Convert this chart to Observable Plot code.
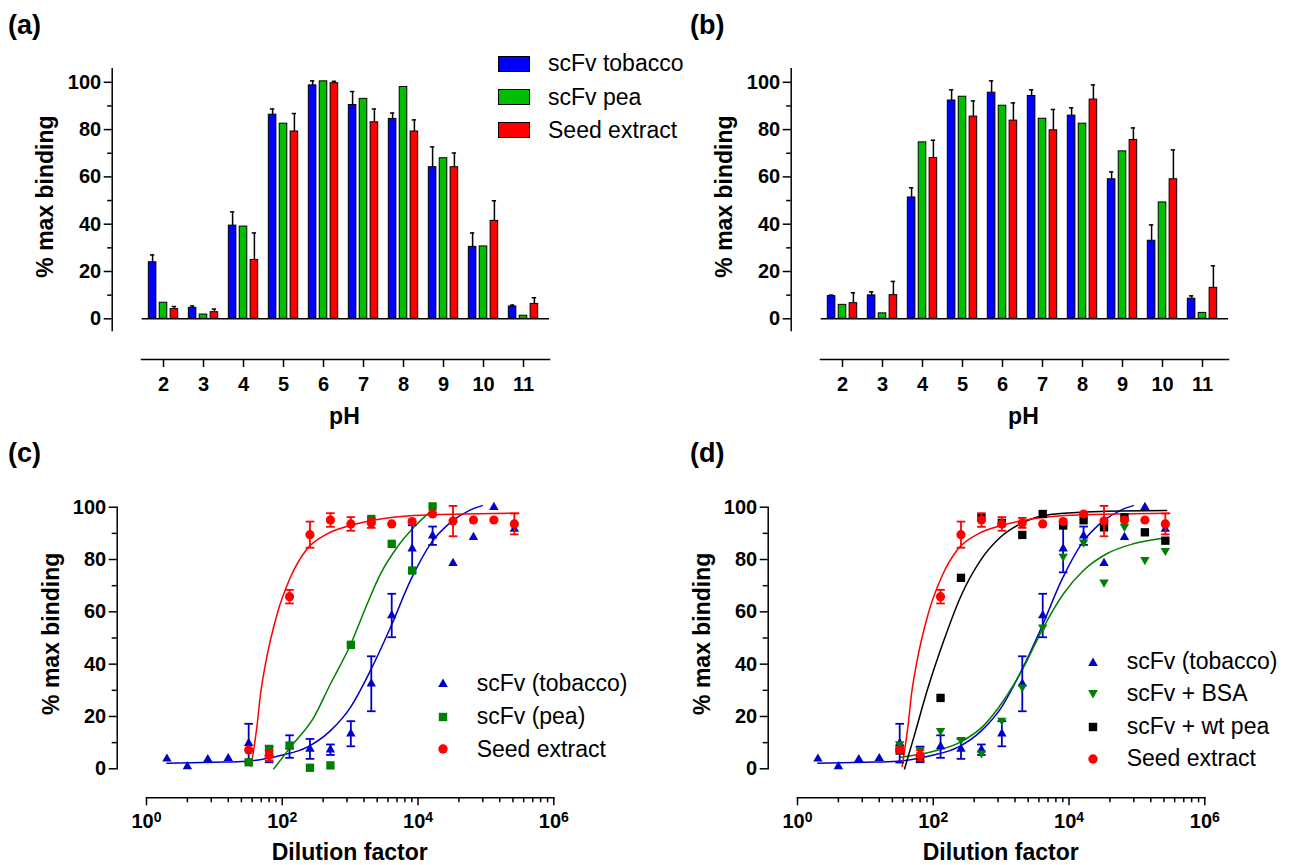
<!DOCTYPE html>
<html><head><meta charset="utf-8">
<script src="https://cdn.jsdelivr.net/npm/d3@7"></script>
<script src="https://cdn.jsdelivr.net/npm/@observablehq/plot@0.6"></script>
<style>
body{margin:0;background:#fff;}
#root{position:relative;width:1294px;height:865px;overflow:hidden;background:#fff;font-family:"Liberation Sans",Arial,Helvetica,sans-serif;color:#000;}
.panel{position:absolute;}
.letter{position:absolute;font-weight:bold;font-size:27px;line-height:1;}
.lg{position:absolute;font-size:23px;line-height:1;white-space:nowrap;}
.sw{position:absolute;box-sizing:border-box;border:1px solid #000;}
.sym{position:absolute;}
</style></head><body><div id="root"></div>
<script>
const FONT = '"Liberation Sans", Arial, Helvetica, sans-serif';

// ---------- Panels (a), (b): binding vs pH ----------
const pH = [2, 3, 4, 5, 6, 7, 8, 9, 10, 11];
const barSeries = ["scFv tobacco", "scFv pea", "Seed extract"];
const barColors = ["#0000ff", "#00bf00", "#ff0000"];

const aTobacco    = [23.9, 4.6, 39.4, 86.3, 98.7, 90.4, 84.5, 64.1, 30.4, 5.2];
const aTobaccoErr = [3.1, 0.8, 5.8, 2.4, 1.9, 5.7, 2.5, 8.6, 5.9, 0.6];
const aPea        = [6.8, 1.8, 39.0, 82.5, 100.4, 93.0, 98.0, 67.9, 30.6, 1.3];
const aSeed       = [4.1, 2.8, 24.9, 79.2, 99.6, 83.1, 79.2, 64.1, 41.4, 6.3];
const aSeedErr    = [1.1, 1.3, 11.4, 7.6, 0.8, 5.6, 4.9, 6.0, 8.5, 2.6];

const bTobacco    = [9.6, 9.9, 51.3, 92.3, 95.6, 94.2, 85.9, 59.0, 33.0, 8.5];
const bTobaccoErr = [0.4, 1.5, 4.1, 4.5, 5.0, 2.6, 3.3, 3.1, 6.7, 1.2];
const bPea        = [5.9, 2.3, 74.6, 93.9, 90.1, 84.6, 82.5, 70.8, 49.2, 2.5];
const bSeed       = [6.6, 10.0, 68.0, 85.5, 83.8, 79.7, 92.7, 75.6, 59.0, 13.1];
const bSeedErr    = [4.4, 5.8, 7.5, 6.6, 7.5, 8.8, 6.2, 5.1, 12.4, 9.3];

const yMajor = [0, 20, 40, 60, 80, 100];
const yMinor = [10, 30, 50, 70, 90];

// ---------- Panels (c), (d): binding vs dilution ----------
const dilutions = [2, 4, 8, 16, 32, 64, 128, 256, 512, 1024, 2048, 4096, 8192, 16384, 32768, 65536, 131072, 262144];
const tobacco    = [3.8, 0.9, 3.6, 4.0, 9.8, 5.5, 8.5, 7.6, 7.3, 13.4, 32.5, 58.6, 84.1, 89.1, 78.6, 88.5, 100.0, 91.7];
const tobaccoErr = [null, null, null, null, 7.4, 3.0, 4.3, 3.8, 2.0, 4.8, 10.5, 8.3, 9.0, 3.5, null, null, null, null];
const pea        = [null, null, null, null, 2.5, 7.6, 8.9, 0.4, 1.3, 47.4, 95.5, 86.0, 75.8, 100.3, null, null, null, null];
const seed       = [null, null, null, null, 7.2, 5.1, 65.8, 89.5, 95.1, 93.6, 94.0, 93.6, 94.5, 97.4, 94.7, 95.1, 95.1, 93.6];
const seedErr    = [null, null, null, null, null, 2.0, 2.6, 5.0, 2.6, 2.6, 1.9, null, null, null, 5.8, null, null, 4.0];
const bsa        = [null, null, null, null, 9.5, 7.3, 14.6, 11.1, 6.0, 18.5, 31.2, 54.1, 81.2, 86.6, 71.3, 92.6, 79.9, 83.4];
const wtPea      = [null, null, null, null, 7.0, 4.1, 27.1, 73.0, 96.1, 94.0, 89.4, 97.4, 93.0, 95.0, 92.3, 96.1, 90.4, 87.2];

// fitted curves
const fitTobaccoX = [2, 10, 30, 94, 233, 514, 1010, 1995, 3940, 7745, 15280, 30130, 59290, 88100];
const fitTobaccoY = [2.1, 2.5, 2.9, 5.1, 8.3, 14.6, 23.5, 37.6, 54.1, 72.0, 86.0, 94.2, 99.0, 100.6];
const fitSeedX = [34.8, 42.8, 47.9, 56.6, 84.1, 132, 233, 459, 1012, 2800, 8670, 47200, 305500];
const fitSeedY = [0.9, 17.2, 28.7, 40.1, 59.2, 73.2, 84.1, 89.8, 93.0, 95.5, 96.8, 97.4, 97.7];
const fitPeaX = [75.2, 132, 292, 514, 1012, 1782, 2800, 4932, 8670, 15280];
const fitPeaY = [0.0, 8.3, 19.7, 32.5, 47.4, 63.0, 74.5, 84.7, 92.3, 98.4];
const fitWtPeaX = [37.8, 51.8, 81.3, 143, 251, 494, 973, 2138, 5272, 28640, 273500];
const fitWtPeaY = [0.0, 12.1, 29.9, 49.0, 65.6, 79.6, 88.5, 94.2, 97.2, 98.4, 98.7];
const fitBsaX = [33, 102, 251, 552, 1086, 2138, 4207, 8279, 16290, 35890, 88300, 273500];
const fitBsaY = [4.4, 6.7, 10.2, 16.5, 26.1, 38.8, 54.1, 66.9, 75.8, 82.2, 86.0, 88.3];

const logMajor = [1, 100, 10000, 1000000];
const logMinorMultipliers = [4, 9, 16, 25, 36, 49, 64, 81];
const logMinor = [1, 100, 10000].flatMap(b => logMinorMultipliers.map(m => b * m));

const cBlue = "#0000cc", cGreen = "#008000", cRed = "#ff0000", cBlack = "#000000";

// ---------- helpers ----------
const root = document.getElementById("root");
function place(el, left, top) {
  el.style.position = "absolute"; el.style.left = left + "px"; el.style.top = top + "px";
  root.appendChild(el);
}
function div(cls, text, left, top) {
  const d = document.createElement("div"); d.className = cls; d.textContent = text;
  d.style.left = left + "px"; d.style.top = top + "px"; root.appendChild(d); return d;
}

const triangleDown = {
  draw(context, size) {
    const y = -Math.sqrt(size / (Math.sqrt(3) * 3));
    context.moveTo(0, -y * 2);
    context.lineTo(-Math.sqrt(3) * y, y);
    context.lineTo(Math.sqrt(3) * y, y);
    context.closePath();
  }
};
const capSymbol = {
  draw(context, size) {
    const w = Math.sqrt(size / Math.PI);
    context.moveTo(-w, 0); context.lineTo(w, 0);
  }
};

// ---------- bar panels ----------
const BAND = (544.3 - 141.9) / pH.length;
const barOffsets = [-10.9, 0, 10.9];
const barHalf = 3.9, capHalf = 2.3;

function barRows(tob, tobErr, pe, sd, sdErr) {
  const rows = [];
  pH.forEach((p, i) => {
    rows.push({pH: p, s: 0, value: tob[i], err: tobErr[i]});
    rows.push({pH: p, s: 1, value: pe[i], err: null});
    rows.push({pH: p, s: 2, value: sd[i], err: sdErr[i]});
  });
  return rows;
}

function barPlot(rows) {
  const marks = [
    Plot.frame({anchor: "left", insetBottom: 29, strokeWidth: 1.5}),
    Plot.frame({anchor: "bottom", insetLeft: 29.3, strokeWidth: 1.5}),
    Plot.axisY({ticks: yMajor, tickSize: 8, tickPadding: 3, strokeWidth: 1.5, fontSize: 20, fontWeight: "bold", label: null}),
    Plot.axisY({ticks: yMinor, tickSize: 4.5, tickFormat: () => "", strokeWidth: 1.5, label: null}),
    Plot.axisX({tickSize: 8, tickPadding: 9.5, strokeWidth: 1.5, fontSize: 20, fontWeight: "bold", label: null}),
    Plot.ruleY([0], {insetLeft: 30, strokeWidth: 1.5})
  ];
  barSeries.forEach((name, s) => {
    const data = rows.filter(d => d.s === s);
    const withErr = data.filter(d => d.err != null);
    const inset = BAND / 2 - barHalf, cInset = BAND / 2 - capHalf;
    marks.push(Plot.ruleX(withErr, {x: "pH", y1: "value", y2: d => d.value + d.err, dx: barOffsets[s], stroke: "#000", strokeWidth: 1.5}));
    marks.push(Plot.tickY(withErr, {x: "pH", y: d => d.value + d.err, dx: barOffsets[s], insetLeft: cInset, insetRight: cInset, stroke: "#000", strokeWidth: 1.5}));
    marks.push(Plot.barY(data, {x: "pH", y: "value", dx: barOffsets[s], insetLeft: inset, insetRight: inset, fill: barColors[s], stroke: "#000", strokeWidth: 1}));
  });
  marks.push(Plot.text(["% max binding"], {text: d => d, frameAnchor: "left", textAnchor: "middle", lineAnchor: "middle", rotate: -90, dx: -66.7, dy: -17.6, fontSize: 23, fontWeight: "bold"}));
  marks.push(Plot.text(["pH"], {text: d => d, frameAnchor: "bottom", textAnchor: "middle", lineAnchor: "top", dx: 13.6, dy: 48, fontSize: 23, fontWeight: "bold"}));
  return Plot.plot({
    width: 615, height: 435,
    marginLeft: 111.7, marginTop: 68.3, marginRight: 66, marginBottom: 76,
    style: {background: "transparent", color: "#000", fontFamily: FONT, overflow: "visible"},
    x: {type: "band", domain: pH, range: [141.9, 544.3], padding: 0},
    y: {domain: [0, 100], range: [318.3, 81.8]},
    marks
  });
}

// ---------- dilution panels ----------
function pts(values, errs) {
  const out = [];
  dilutions.forEach((x, i) => { if (values[i] != null) out.push({x, v: values[i], e: errs ? errs[i] : null}); });
  return out;
}
function fit(xs, ys) { return xs.map((x, i) => ({x, y: ys[i]})); }

function dilutionPlot(series) {
  const marks = [
    Plot.frame({anchor: "left", insetBottom: 29, strokeWidth: 1.5}),
    Plot.frame({anchor: "bottom", insetLeft: 29.3, strokeWidth: 1.5}),
    Plot.axisY({ticks: yMajor, tickSize: 8, tickPadding: 3, strokeWidth: 1.5, fontSize: 20, fontWeight: "bold", label: null}),
    Plot.axisY({ticks: yMinor, tickSize: 5, tickFormat: () => "", strokeWidth: 1.5, label: null}),
    Plot.axisX({ticks: logMajor, tickSize: 8, tickPadding: 8, strokeWidth: 1.5, fontSize: 20, fontWeight: "bold", label: null,
      tickFormat: d => "10^" + Math.round(Math.log10(d))}),
    Plot.axisX({ticks: logMinor, tickSize: 5, tickFormat: () => "", strokeWidth: 1.5, label: null})
  ];
  for (const s of series) {
    marks.push(Plot.line(s.fit, {x: "x", y: "y", stroke: s.color, strokeWidth: 1.5, curve: "monotone-x"}));
  }
  for (const s of series) {
    const withErr = s.pts.filter(d => d.e != null);
    marks.push(Plot.ruleX(withErr, {x: "x", y1: d => d.v - d.e, y2: d => d.v + d.e, stroke: s.color, strokeWidth: 1.8}));
    marks.push(Plot.dot(withErr, {x: "x", y: d => d.v + d.e, symbol: capSymbol, r: 4.3, stroke: s.color, strokeWidth: 1.8, fill: "none"}));
    marks.push(Plot.dot(withErr, {x: "x", y: d => d.v - d.e, symbol: capSymbol, r: 4.3, stroke: s.color, strokeWidth: 1.8, fill: "none"}));
    marks.push(Plot.dot(s.pts, {x: "x", y: "v", symbol: s.symbol, r: s.r, fill: s.color, stroke: "none"}));
  }
  marks.push(Plot.text(["% max binding"], {text: d => d, frameAnchor: "left", textAnchor: "middle", lineAnchor: "middle", rotate: -90, dx: -65.7, dy: -18.7, fontSize: 23, fontWeight: "bold"}));
  marks.push(Plot.text(["Dilution factor"], {text: d => d, frameAnchor: "bottom", textAnchor: "middle", lineAnchor: "top", dx: 14.2, dy: 46, fontSize: 23, fontWeight: "bold"}));
  const svg = Plot.plot({
    width: 615, height: 430,
    marginLeft: 116.7, marginTop: 71.7, marginRight: 61.7, marginBottom: 67.7,
    style: {background: "transparent", color: "#000", fontFamily: FONT, overflow: "visible"},
    x: {type: "log", domain: [1, 1e6], range: [146, 553.3]},
    y: {domain: [0, 100], range: [333.3, 71.7]},
    marks
  });
  // superscript exponents on the log tick labels
  svg.querySelectorAll('g[aria-label="x-axis tick label"] text').forEach(t => {
    const parts = t.textContent.split("^");
    if (parts.length === 2) {
      t.textContent = parts[0];
      const ts = document.createElementNS("http://www.w3.org/2000/svg", "tspan");
      ts.setAttribute("dy", "-6"); ts.setAttribute("font-size", "14");
      ts.textContent = parts[1];
      t.appendChild(ts);
    }
  });
  return svg;
}

// ---------- build ----------
place(barPlot(barRows(aTobacco, aTobaccoErr, aPea, aSeed, aSeedErr)), 0, 0);
place(barPlot(barRows(bTobacco, bTobaccoErr, bPea, bSeed, bSeedErr)), 679, 0);

const seriesTobacco = {pts: pts(tobacco, tobaccoErr), fit: fit(fitTobaccoX, fitTobaccoY), color: cBlue, symbol: "triangle", r: 3.5};
const seriesSeed = {pts: pts(seed, seedErr), fit: fit(fitSeedX, fitSeedY), color: cRed, symbol: "circle", r: 4.6};
place(dilutionPlot([
  seriesTobacco,
  {pts: pts(pea), fit: fit(fitPeaX, fitPeaY), color: cGreen, symbol: "square", r: 4.7},
  seriesSeed
]), 0, 435);
place(dilutionPlot([
  seriesTobacco,
  {pts: pts(bsa), fit: fit(fitBsaX, fitBsaY), color: cGreen, symbol: triangleDown, r: 3.5},
  {pts: pts(wtPea), fit: fit(fitWtPeaX, fitWtPeaY), color: cBlack, symbol: "square", r: 4.7},
  seriesSeed
]), 650.7, 435);

// panel letters
div("letter", "(a)", 8, 12);
div("letter", "(b)", 690, 12);
div("letter", "(c)", 8, 440);
div("letter", "(d)", 690, 440);

// bar legend
const barLegendRows = [63.7, 97, 130];
barSeries.forEach((name, i) => {
  const sw = document.createElement("div"); sw.className = "sw";
  sw.style.width = "32px"; sw.style.height = "16px"; sw.style.background = barColors[i];
  sw.style.left = "498px"; sw.style.top = (barLegendRows[i] - 8) + "px"; root.appendChild(sw);
  div("lg", name, 548, barLegendRows[i] - 11.5);
});

// symbol legends
const symPaths = {
  up: '<path d="M6,1.6 L10.8,9.9 L1.2,9.9 Z"/>',
  down: '<path d="M1.2,2.1 L10.8,2.1 L6,10.4 Z"/>',
  square: '<rect x="1.8" y="1.8" width="8.4" height="8.4"/>',
  circle: '<circle cx="6" cy="6" r="4.7"/>'
};
function symLegend(items, symX, textX, rows) {
  items.forEach((it, i) => {
    const s = document.createElement("div"); s.className = "sym";
    s.innerHTML = `<svg width="12" height="12" fill="${it.color}">${symPaths[it.sym]}</svg>`;
    s.style.left = (symX - 6) + "px"; s.style.top = (rows[i] - 6) + "px"; s.style.lineHeight = "0";
    root.appendChild(s);
    div("lg", it.label, textX, rows[i] - 11.5);
  });
}
symLegend([
  {label: "scFv (tobacco)", color: cBlue, sym: "up"},
  {label: "scFv (pea)", color: cGreen, sym: "square"},
  {label: "Seed extract", color: cRed, sym: "circle"}
], 443.3, 476.7, [683.3, 716.7, 749]);
symLegend([
  {label: "scFv (tobacco)", color: cBlue, sym: "up"},
  {label: "scFv + BSA", color: cGreen, sym: "down"},
  {label: "scFv + wt pea", color: cBlack, sym: "square"},
  {label: "Seed extract", color: cRed, sym: "circle"}
], 1093.3, 1126.7, [661.7, 693.5, 726.5, 758.5]);
</script></body></html>
